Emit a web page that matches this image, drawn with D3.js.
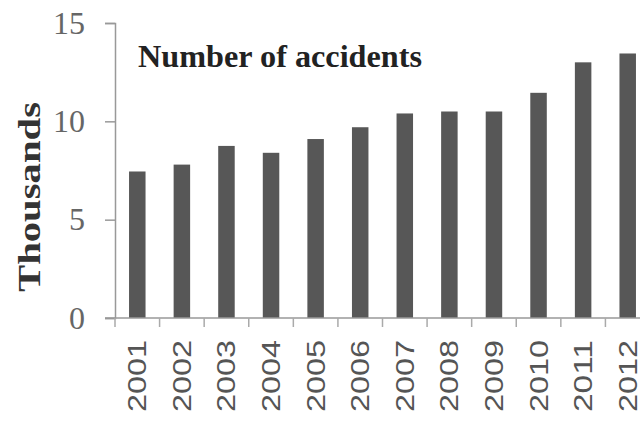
<!DOCTYPE html>
<html>
<head>
<meta charset="utf-8">
<script src="https://cdn.jsdelivr.net/npm/d3@7"></script>
<style>
  body { margin: 0; background: #fff; }
  svg { display: block; }
</style>
</head>
<body>
<script>
// data (thousands of accidents)
var years = ["2001","2002","2003","2004","2005","2006","2007","2008","2009","2010","2011","2012"];
var accidents = [7.45, 7.8, 8.75, 8.4, 9.1, 9.7, 10.4, 10.5, 10.5, 11.45, 13.0, 13.45];
var yTicks = [0, 5, 10, 15];
var title = "Number of accidents";
var yTitle = "Thousands";

var width = 640, height = 434;

var svg = d3.select("body").append("svg")
  .attr("width", width)
  .attr("height", height);

svg.append("rect")
  .attr("width", width)
  .attr("height", height)
  .style("fill", "#fff");

var x = d3.scaleBand()
  .domain(years)
  .range([115, 650])
  .paddingInner(0.63)
  .paddingOuter(0.315);

var y = d3.scaleLinear()
  .domain([0, 15])
  .range([318, 23]);

var step = x.step();

// bars
svg.selectAll(".bar")
  .data(accidents)
  .enter().append("rect")
  .attr("class", "bar")
  .attr("x", function(d, i) { return x(years[i]); })
  .attr("y", function(d) { return y(d); })
  .attr("width", x.bandwidth())
  .attr("height", function(d) { return y(0) - y(d); })
  .style("fill", "#575757");

// y axis
var yAxis = d3.axisLeft(y).tickValues(yTicks).tickSize(10).tickPadding(20);
var gy = svg.append("g")
  .attr("transform", "translate(115,0)")
  .call(yAxis);
gy.select(".domain").attr("stroke", "#999").attr("stroke-width", 1.5);
gy.selectAll(".tick line").attr("stroke", "#999").attr("stroke-width", 1.5);
gy.selectAll(".tick text")
  .style("font-family", "'Liberation Serif', 'Times New Roman', serif")
  .style("font-size", "32px")
  .style("fill", "#666");

// x axis line + ticks at band boundaries
svg.append("line")
  .attr("x1", 105).attr("x2", 640)
  .attr("y1", y(0)).attr("y2", y(0))
  .attr("stroke", "#999").attr("stroke-width", 1.5);

svg.selectAll(".xtick")
  .data(years)
  .enter().append("line")
  .attr("class", "xtick")
  .attr("x1", function(d) { return x(d) + x.bandwidth() / 2 - step / 2; })
  .attr("x2", function(d) { return x(d) + x.bandwidth() / 2 - step / 2; })
  .attr("y1", y(0))
  .attr("y2", y(0) + 9)
  .attr("stroke", "#aaa")
  .attr("stroke-width", 1.5);

// x labels, rotated
svg.selectAll(".xlabel")
  .data(years)
  .enter().append("text")
  .attr("class", "xlabel")
  .attr("transform", function(d) {
    return "translate(" + (x(d) + x.bandwidth() / 2 + 9) + ",340) rotate(-90)";
  })
  .attr("text-anchor", "end")
  .attr("textLength", 72)
  .attr("lengthAdjust", "spacingAndGlyphs")
  .style("font-family", "'Liberation Sans', Arial, sans-serif")
  .style("font-size", "26px")
  .style("fill", "#555")
  .text(function(d) { return d; });

// y title
svg.append("text")
  .attr("transform", "translate(40,197) rotate(-90)")
  .attr("text-anchor", "middle")
  .attr("textLength", 190)
  .attr("lengthAdjust", "spacingAndGlyphs")
  .style("font-family", "'Liberation Serif', 'Times New Roman', serif")
  .style("font-weight", "bold")
  .style("font-size", "31px")
  .style("fill", "#333")
  .text(yTitle);

// chart title
svg.append("text")
  .attr("x", 138)
  .attr("y", 67)
  .attr("textLength", 284)
  .attr("lengthAdjust", "spacingAndGlyphs")
  .style("font-family", "'Liberation Serif', 'Times New Roman', serif")
  .style("font-weight", "bold")
  .style("font-size", "31px")
  .style("fill", "#222")
  .text(title);
</script>
</body>
</html>
